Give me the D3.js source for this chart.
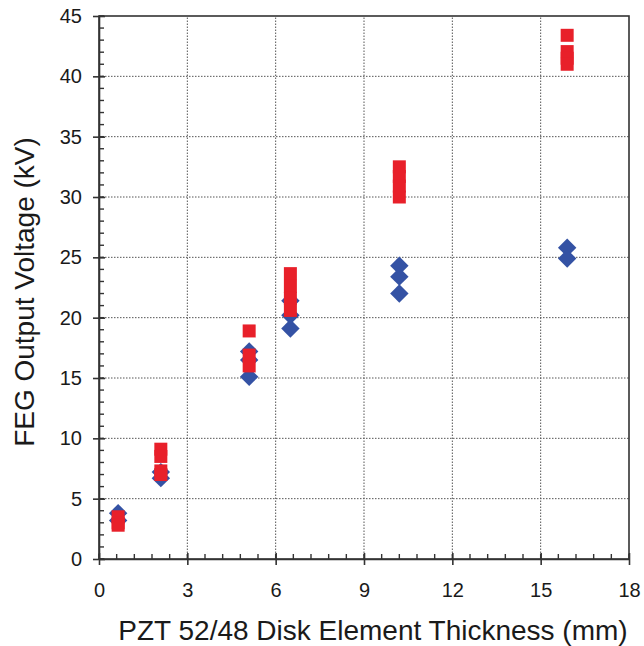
<!DOCTYPE html>
<html lang="en">
<head>
  <meta charset="UTF-8">
  <title>FEG output voltage</title>
  <style>
    body { margin: 0; background: #fff; }
    text { font-family: "Liberation Sans", Arial, sans-serif; fill: #1a1a1a; }
  </style>
</head>
<body>
  <script src="https://d3js.org/d3.v7.min.js"></script>
  <script>
    // thickness (mm) for each measured disk
    const thickness = [0.65, 2.1, 5.1, 6.5, 10.2, 15.9];
    // blue diamonds (kV), one list per thickness
    const blueVals = [
      [3.8, 3.2],
      [7.2, 6.7],
      [17.2, 16.5, 15.1],
      [21.4, 20.2, 19.1],
      [24.3, 23.4, 22.0],
      [25.8, 24.9]
    ];
    // red squares (kV)
    const redVals = [
      [3.5, 3.0, 2.8],
      [9.1, 8.5, 7.3, 7.0],
      [18.9, 16.9, 16.0],
      [23.65, 22.6, 21.6, 20.6],
      [32.5, 31.7, 30.9, 30.0],
      [43.4, 42.05, 41.5, 41.0]
    ];
    const xTicks = [0, 3, 6, 9, 12, 15, 18];
    const yTicks = [0, 5, 10, 15, 20, 25, 30, 35, 40, 45];

    const width = 644, height = 646;
    const margin = {left: 99, right: 15, top: 16, bottom: 87};

    const svg = d3.select("body").append("svg").attr("width", width).attr("height", height);

    const xScale = d3.scaleLinear().domain([0, 18]).range([margin.left, width - margin.right]);
    const yScale = d3.scaleLinear().domain([0, 45]).range([height - margin.bottom, margin.top]);

    // dotted grid
    svg.append("g").selectAll("line")
      .data(xTicks.slice(1, -1))
      .enter().append("line")
      .attr("x1", d => xScale(d)).attr("x2", d => xScale(d))
      .attr("y1", yScale(0)).attr("y2", yScale(45))
      .attr("stroke", "#555").attr("stroke-width", 1).attr("stroke-dasharray", "1.5,1.5");
    svg.append("g").selectAll("line")
      .data(yTicks.slice(1, -1))
      .enter().append("line")
      .attr("y1", d => yScale(d)).attr("y2", d => yScale(d))
      .attr("x1", xScale(0)).attr("x2", xScale(18))
      .attr("stroke", "#555").attr("stroke-width", 1).attr("stroke-dasharray", "1.5,1.5");

    // frame
    svg.append("rect")
      .attr("x", xScale(0)).attr("y", yScale(45))
      .attr("width", xScale(18) - xScale(0)).attr("height", yScale(0) - yScale(45))
      .attr("fill", "none").attr("stroke", "#333").attr("stroke-width", 1.6);

    // minor ticks (inside)
    const xMinor = d3.range(0, 18.01, 0.6);
    const yMinor = d3.range(0, 45.01, 1);
    svg.append("g").selectAll("line").data(xMinor).enter().append("line")
      .attr("x1", d => xScale(d)).attr("x2", d => xScale(d))
      .attr("y1", yScale(0)).attr("y2", yScale(0) - 5)
      .attr("stroke", "#333").attr("stroke-width", 1.4);
    svg.append("g").selectAll("line").data(yMinor).enter().append("line")
      .attr("y1", d => yScale(d)).attr("y2", d => yScale(d))
      .attr("x1", xScale(0)).attr("x2", xScale(0) + 5)
      .attr("stroke", "#333").attr("stroke-width", 1.4);

    // axes with major ticks crossing the line
    const axisX = d3.axisBottom(xScale).tickValues(xTicks).tickSizeInner(6).tickSizeOuter(0).tickPadding(18);
    const gx = svg.append("g").attr("transform", "translate(0," + yScale(0) + ")").call(axisX);
    const axisY = d3.axisLeft(yScale).tickValues(yTicks).tickSizeInner(6).tickSizeOuter(0).tickPadding(11);
    const gy = svg.append("g").attr("transform", "translate(" + xScale(0) + ",0)").call(axisY);
    [gx, gy].forEach(g => {
      g.select(".domain").attr("stroke", "#333").attr("stroke-width", 1.6);
      g.selectAll(".tick line").attr("stroke", "#333").attr("stroke-width", 1.6);
      g.selectAll("text").attr("font-size", 20).attr("fill", "#1a1a1a")
        .attr("font-family", "'Liberation Sans', Arial, sans-serif");
    });
    gx.selectAll(".tick line").attr("y1", -6);
    gy.selectAll(".tick line").attr("x1", 6);

    // points
    const bluePts = [], redPts = [];
    thickness.forEach((t, i) => {
      blueVals[i].forEach(v => bluePts.push([t, v]));
      redVals[i].forEach(v => redPts.push([t, v]));
    });

    const diamond = d3.symbol().type(d3.symbolSquare).size(170);
    svg.append("g").selectAll("path").data(bluePts).enter().append("path")
      .attr("d", diamond)
      .attr("transform", d => "translate(" + xScale(d[0]) + "," + yScale(d[1]) + ") rotate(45)")
      .attr("fill", "#3452a4");

    const square = d3.symbol().type(d3.symbolSquare).size(169);
    svg.append("g").selectAll("path").data(redPts).enter().append("path")
      .attr("d", square)
      .attr("transform", d => "translate(" + xScale(d[0]) + "," + yScale(d[1]) + ")")
      .attr("fill", "#e8202a");

    // titles
    svg.append("text")
      .attr("x", (xScale(0) + xScale(18)) / 2 + 9).attr("y", 640)
      .attr("text-anchor", "middle").attr("font-size", 28)
      .text("PZT 52/48 Disk Element Thickness (mm)");
    svg.append("text")
      .attr("transform", "translate(34,292) rotate(-90)")
      .attr("text-anchor", "middle").attr("font-size", 28)
      .text("FEG Output Voltage (kV)");
  </script>
</body>
</html>
